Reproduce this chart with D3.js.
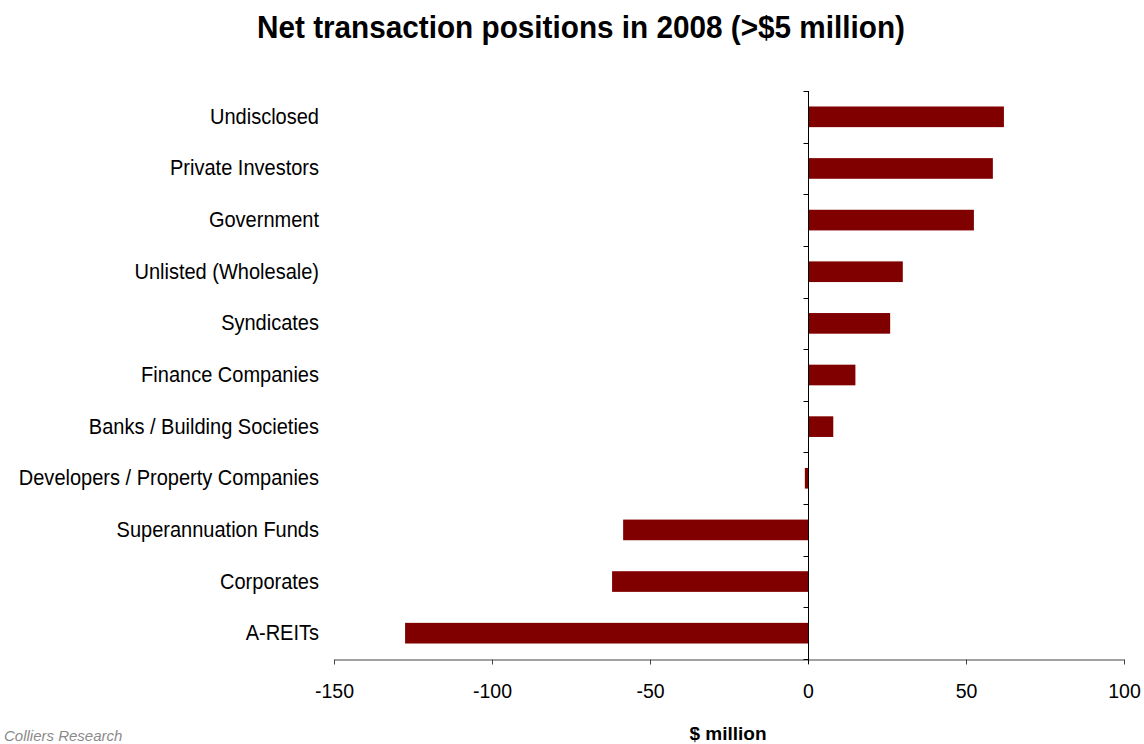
<!DOCTYPE html>
<html>
<head>
<meta charset="utf-8">
<script src="https://cdn.jsdelivr.net/npm/d3@7"></script>
<style>
  html, body { margin: 0; padding: 0; background: #fff; }
  svg { display: block; font-family: "Liberation Sans", Arial, sans-serif; }
</style>
</head>
<body>
<svg id="chart" width="1144" height="744"></svg>
<script>
// Net transaction positions by purchaser group, $ million (top to bottom)
const categories = [
  "Undisclosed",
  "Private Investors",
  "Government",
  "Unlisted (Wholesale)",
  "Syndicates",
  "Finance Companies",
  "Banks / Building Societies",
  "Developers / Property Companies",
  "Superannuation Funds",
  "Corporates",
  "A-REITs"
];
const netValues = [62, 58.5, 52.5, 30, 26, 15, 8, -1, -58.5, -62, -127.5];
const xTickValues = [-150, -100, -50, 0, 50, 100];

const titleText = "Net transaction positions in 2008 (>$5 million)";
const axisTitle = "$ million";
const sourceText = "Colliers Research";

const svg = d3.select("#chart");
const plot = { left: 334, right: 1124, top: 91, bottom: 659 };
const barColor = "#800000";

const x = d3.scaleLinear().domain([-150, 100]).range([plot.left, plot.right]);
const y = d3.scaleBand()
  .domain(categories)
  .range([plot.top, plot.bottom])
  .paddingInner(0.6)
  .paddingOuter(0.3);

// Title
svg.append("text")
  .attr("x", 581).attr("y", 38)
  .attr("text-anchor", "middle")
  .attr("font-size", 32).attr("font-weight", "bold")
  .attr("textLength", 648).attr("lengthAdjust", "spacingAndGlyphs")
  .attr("fill", "#000")
  .text(titleText);

// Bars
svg.append("g").selectAll("rect")
  .data(categories)
  .join("rect")
  .attr("x", (d, i) => x(Math.min(0, netValues[i])))
  .attr("width", (d, i) => Math.abs(x(netValues[i]) - x(0)))
  .attr("y", d => y(d))
  .attr("height", y.bandwidth())
  .attr("fill", barColor);

// Horizontal value axis (plain hyphen for negatives)
const xAxis = d3.axisBottom(x)
  .tickValues(xTickValues)
  .tickSize(5)
  .tickSizeOuter(0)
  .tickPadding(0)
  .tickFormat(d => String(d));

const gx = svg.append("g")
  .attr("transform", `translate(0,${plot.bottom + 0.5})`)
  .call(xAxis);
gx.select(".domain").attr("stroke", "#444").attr("stroke-width", 1);
gx.selectAll(".tick line").attr("stroke", "#444");
gx.selectAll(".tick text")
  .attr("font-size", 21)
  .attr("fill", "#000")
  .attr("font-family", "Liberation Sans, Arial, sans-serif")
  .attr("dy", null)
  .attr("y", 39)
  .attr("transform", "scale(0.93,1)");

// Category axis at zero, with ticks on band boundaries
const zeroX = Math.round(x(0)) + 0.5;
const gy = svg.append("g");
gy.append("line")
  .attr("x1", zeroX).attr("x2", zeroX)
  .attr("y1", plot.top).attr("y2", plot.bottom + 5)
  .attr("stroke", "#000");
const boundaries = d3.range(categories.length + 1).map(i => plot.top + i * y.step());
gy.selectAll("line.tick")
  .data(boundaries)
  .join("line")
  .attr("class", "tick")
  .attr("x1", zeroX - 5).attr("x2", zeroX)
  .attr("y1", d => Math.round(d) + 0.5).attr("y2", d => Math.round(d) + 0.5)
  .attr("stroke", "#000");

// Category labels on the left
const labels = svg.append("g").selectAll("g")
  .data(categories)
  .join("g")
  .attr("transform", d => `translate(319,${y(d) + y.bandwidth() / 2 + 7}) scale(0.91,1)`);
labels.append("text")
  .attr("text-anchor", "end")
  .attr("font-size", 22)
  .attr("fill", "#000")
  .text(d => d);

// Axis title
svg.append("text")
  .attr("x", 728).attr("y", 740)
  .attr("text-anchor", "middle")
  .attr("font-size", 19).attr("font-weight", "bold")
  .attr("fill", "#000")
  .text(axisTitle);

// Source note, bottom left
svg.append("text")
  .attr("x", 4).attr("y", 741)
  .attr("font-size", 15).attr("font-style", "italic")
  .attr("fill", "#8a8a8a")
  .text(sourceText);
</script>
</body>
</html>
